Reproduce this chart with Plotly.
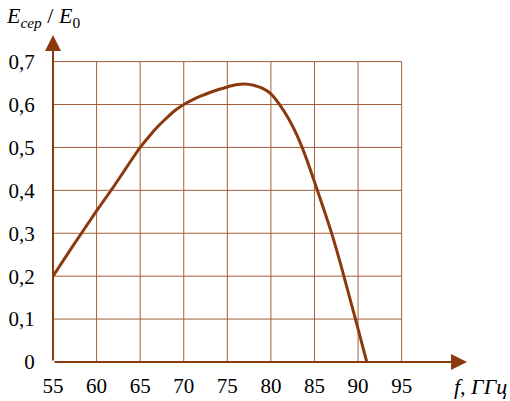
import plotly.graph_objects as go

# Data
freq = [55, 57, 60, 62, 65, 66, 67, 68, 69, 70, 71, 72, 73, 74, 75, 76, 77, 78, 79, 80, 81, 82, 83, 84, 85,
        86, 87, 88, 89, 90, 91]
ratio = [0.2, 0.262, 0.352, 0.41, 0.5, 0.525, 0.548, 0.568, 0.586, 0.6, 0.611, 0.62, 0.628, 0.635, 0.641,
         0.646, 0.648, 0.645, 0.638, 0.625, 0.6, 0.568, 0.528, 0.478, 0.42, 0.36, 0.298, 0.228, 0.153, 0.077, 0.0]

x_ticks = [55, 60, 65, 70, 75, 80, 85, 90, 95]
y_ticks = [0, 0.1, 0.2, 0.3, 0.4, 0.5, 0.6, 0.7]
y_tick_text = ["0", "0,1", "0,2", "0,3", "0,4", "0,5", "0,6", "0,7"]

x_max_arrow = 102.5
y_max_arrow = 0.762

BROWN = "#8B3A0F"
GRID = "#a2603a"
FONT = "Liberation Serif, Times New Roman, serif"

L, R, T, B = 53, 43, 35, 39
W, H = 510, 401
pw = W - L - R
ph = H - T - B

fig = go.Figure()

shapes = []
for xv in x_ticks[1:]:
    shapes.append(dict(type="line", xref="x", yref="y", x0=xv, x1=xv, y0=0, y1=y_ticks[-1],
                       line=dict(color=GRID, width=1), layer="below"))
for yv in y_ticks[1:]:
    shapes.append(dict(type="line", xref="x", yref="y", x0=x_ticks[0], x1=x_ticks[-1], y0=yv, y1=yv,
                       line=dict(color=GRID, width=1), layer="below"))

fig.add_trace(go.Scatter(x=freq, y=ratio, mode="lines",
                         line=dict(color=BROWN, width=3, shape="spline", smoothing=0.6),
                         hoverinfo="skip", showlegend=False))

annotations = [
    dict(x=x_max_arrow, y=0, ax=x_ticks[0], ay=0, xref="x", yref="y", axref="x", ayref="y",
         showarrow=True, arrowhead=2, arrowsize=1.6, arrowwidth=2, arrowcolor=BROWN, text="", standoff=0),
    dict(x=x_ticks[0], y=y_max_arrow, ax=x_ticks[0], ay=0, xref="x", yref="y", axref="x", ayref="y",
         showarrow=True, arrowhead=2, arrowsize=1.6, arrowwidth=2, arrowcolor=BROWN, text="", standoff=0),
    dict(x=(4 - L) / pw, y=(ph + T - 1) / ph, xref="paper", yref="paper", xanchor="left", yanchor="top",
         showarrow=False, text="<i>E</i><sub><i>cep</i></sub> / <i>E</i><sub>0</sub>",
         font=dict(family=FONT, size=22, color="black")),
    dict(x=(509 - L) / pw, y=(H - B - 386) / ph, xref="paper", yref="paper", xanchor="right", yanchor="middle",
         showarrow=False, text="<i>f, ГГц</i>", font=dict(family=FONT, size=22, color="black")),
]

fig.update_layout(
    width=W, height=H,
    margin=dict(l=L, r=R, t=T, b=B, autoexpand=False),
    paper_bgcolor="white", plot_bgcolor="white",
    shapes=shapes,
    annotations=annotations,
    showlegend=False,
)

fig.update_xaxes(range=[x_ticks[0], x_max_arrow], tickvals=x_ticks, ticktext=[str(v) for v in x_ticks],
                 showgrid=False, zeroline=False, showline=False, automargin=False,
                 ticks="outside", ticklen=5, tickcolor="rgba(0,0,0,0)",
                 tickfont=dict(family=FONT, size=21, color="black"))
fig.update_yaxes(range=[0, y_max_arrow], tickvals=y_ticks, ticktext=y_tick_text,
                 showgrid=False, zeroline=False, showline=False, automargin=False,
                 ticks="outside", ticklen=13, tickcolor="rgba(0,0,0,0)",
                 tickfont=dict(family=FONT, size=21, color="black"))

fig.write_html("out.html", config={"displayModeBar": False},
               post_script="document.body.style.margin='0';document.body.style.overflow='hidden';")
